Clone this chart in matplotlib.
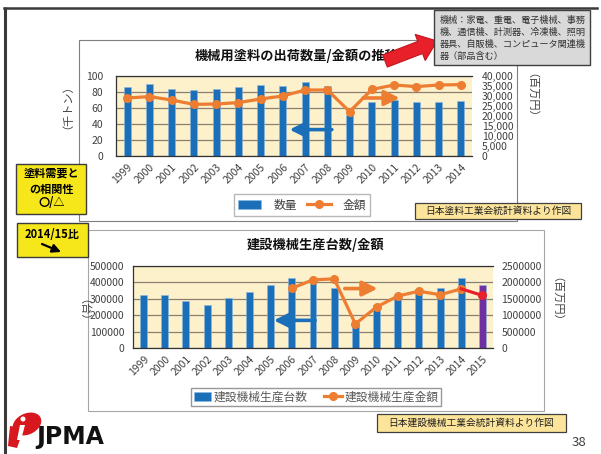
import numpy as np
import matplotlib
matplotlib.use('Agg')
import matplotlib.pyplot as plt
import matplotlib.patches as patches
from matplotlib.ticker import FuncFormatter, MultipleLocator

plt.rcParams['font.family'] = ['Noto Sans CJK JP', 'DejaVu Sans']

# --- data ---
years_top = ['1999', '2000', '2001', '2002', '2003', '2004', '2005', '2006',
             '2007', '2008', '2009', '2010', '2011', '2012', '2013', '2014']
paint_qty = [86, 90, 84, 82.5, 84, 86, 89, 88, 92, 87, 51, 67, 70, 67.5, 68, 69]          # 千トン
paint_amt = [29000, 29700, 28000, 25800, 26000, 26700, 28500, 30000, 33000, 33000,
             22200, 33300, 35500, 34700, 35500, 35700]                                   # 百万円

years_bot = ['1999', '2000', '2001', '2002', '2003', '2004', '2005', '2006', '2007',
             '2008', '2009', '2010', '2011', '2012', '2013', '2014', '2015']
cm_units = [321000, 325000, 285000, 263000, 303000, 339000, 380000, 426000, 414000,
            363000, 145000, 263000, 323000, 360000, 365000, 423000, 380000]             # 台
cm_value = [np.nan, np.nan, np.nan, np.nan, np.nan, np.nan, np.nan, 1816000, 2070000,
            2100000, 732000, 1245000, 1576000, 1727000, 1617000, 1797000, 1596000]      # 百万円

note_lines = ['機械：家電、重電、電子機械、事務',
              '機、通信機、計測器、冷凍機、照明',
              '器具、自販機、コンピュータ関連機',
              '器（部品含む）']

BLUE = '#1b6eb8'
ORANGE = '#ed7d31'
PURPLE = '#7030a0'
RED = '#e8202a'
CREAM = '#fdf1cc'
GRID = '#8a7f6e'

W, H = 601, 454
fig = plt.figure(figsize=(6.01, 4.54), dpi=100)


def px_ax(z):
    a = fig.add_axes([0, 0, 1, 1], zorder=z)
    a.set_xlim(0, W)
    a.set_ylim(H, 0)
    a.axis('off')
    a.patch.set_alpha(0)
    return a


def fr(x0, y0, x1, y1):
    return [x0 / W, 1 - y1 / H, (x1 - x0) / W, (y1 - y0) / H]


bg = px_ax(-1)
# slide border
bg.plot([5, 5], [7, H], color='#3a3a3a', lw=2.2, solid_capstyle='butt')
bg.plot([4, 597], [7.5, 7.5], color='#3a3a3a', lw=1.8)
# chart frames
bg.add_patch(patches.Rectangle((79, 40), 438, 181, fc='white', ec='#7f7f7f', lw=0.8))
bg.add_patch(patches.Rectangle((88, 230), 456, 181, fc='white', ec='#a6a6a6', lw=0.8))
bg.text(195, 56, '機械用塗料の出荷数量/金額の推移', fontsize=9.5, fontweight='bold',
        ha='left', va='center', color='#111')
bg.text(247, 245, '建設機械生産台数/金額', fontsize=9.5, fontweight='bold',
        ha='left', va='center', color='#111')


def style_axes(ax, axr):
    ax.set_facecolor(CREAM)
    ax.set_axisbelow(True)
    ax.yaxis.grid(True, color=GRID, lw=0.9)
    for s in ['top', 'left', 'bottom']:
        ax.spines[s].set_color('#333333')
        ax.spines[s].set_linewidth(0.9)
    ax.spines['right'].set_visible(False)
    for s in axr.spines.values():
        s.set_visible(False)
    ax.tick_params(length=0, labelsize=7.5, colors='#404040')
    axr.tick_params(length=0, labelsize=7.5, colors='#404040')


arrow_kw = dict(arrowstyle='-|>,head_length=0.9,head_width=0.45', lw=2.6,
                shrinkA=0, shrinkB=0, mutation_scale=10)

# --- top chart ---
ax1 = fig.add_axes(fr(116, 76, 472, 156), zorder=1)
ax1r = ax1.twinx()
x1 = np.arange(len(years_top))
bars1 = ax1.bar(x1, paint_qty, width=0.32, color=BLUE, edgecolor='#8ab8e0', lw=0.4)
line1, = ax1r.plot(x1, paint_amt, color=ORANGE, lw=2.3, marker='o', ms=5.5)
ax1.set_xlim(-0.5, len(x1) - 0.5)
ax1.set_ylim(0, 100)
ax1.set_yticks(range(0, 101, 20))
ax1r.set_ylim(0, 40000)
ax1r.yaxis.set_major_locator(MultipleLocator(5000))
ax1r.yaxis.set_major_formatter(FuncFormatter(lambda v, p: f'{int(v):,}'))
ax1.set_xticks(x1, years_top, rotation=45, ha='right', rotation_mode='anchor')
style_axes(ax1, ax1r)
ax1.tick_params(axis='y', pad=9)
ax1r.tick_params(axis='y', pad=7)
ax1.tick_params(axis='x', pad=4)
ax1.set_ylabel('（千トン）', fontsize=8, color='#404040', rotation=90)
ax1.yaxis.set_label_coords(-0.138, 0.68)
ax1r.set_ylabel('（百万円）', fontsize=8, color='#404040', rotation=270, va='center')
ax1r.yaxis.set_label_coords(1.15, 0.69)
ax1r.annotate('', xy=(7.3, 33), xytext=(9.2, 33), xycoords=ax1.transData,
              textcoords=ax1.transData, arrowprops=dict(color=BLUE, **arrow_kw))
ax1r.annotate('', xy=(12.25, 72.5), xytext=(10.6, 72.5), xycoords=ax1.transData,
              textcoords=ax1.transData, arrowprops=dict(color=ORANGE, **arrow_kw))

fig.legend([bars1, line1], ['数量', '金額'], loc='center',
           bbox_to_anchor=(302 / W, 1 - 205 / H), ncol=2, frameon=True,
           fancybox=False, edgecolor='#a6a6a6', fontsize=8.5, labelcolor='#404040',
           handlelength=2.0, handletextpad=1.0, columnspacing=0.9, borderpad=0.35)

# --- bottom chart ---
ax2 = fig.add_axes(fr(133, 265.7, 493, 348), zorder=1)
ax2r = ax2.twinx()
x2 = np.arange(len(years_bot))
bar_cols = [BLUE] * (len(x2) - 1) + [PURPLE]
bars2 = ax2.bar(x2, cm_units, width=0.33, color=bar_cols, edgecolor='#8ab8e0', lw=0.4)
line2, = ax2r.plot(x2[:-1], cm_value[:-1], color=ORANGE, lw=2.3, marker='o', ms=5.5)
ax2r.plot(x2[-2:], cm_value[-2:], color=RED, lw=2.3, zorder=3)
ax2r.plot(x2[-1:], cm_value[-1:], color=RED, marker='o', ms=5.5, lw=0, zorder=4)
ax2.set_xlim(-0.5, len(x2) - 0.5)
ax2.set_ylim(0, 500000)
ax2.set_yticks(range(0, 500001, 100000))
ax2r.set_ylim(0, 2500000)
ax2r.set_yticks(range(0, 2500001, 500000))
ax2.yaxis.set_major_formatter(FuncFormatter(lambda v, p: f'{int(v)}'))
ax2r.yaxis.set_major_formatter(FuncFormatter(lambda v, p: f'{int(v)}'))
ax2.set_xticks(x2, years_bot, rotation=45, ha='right', rotation_mode='anchor')
style_axes(ax2, ax2r)
ax2.tick_params(axis='y', pad=6)
ax2r.tick_params(axis='y', pad=6)
ax2.tick_params(axis='x', pad=4)
ax2.set_ylabel('（台）', fontsize=8, color='#404040', rotation=270, va='center')
ax2.yaxis.set_label_coords(-0.153, 0.39)
ax2r.set_ylabel('（百万円）', fontsize=8, color='#404040', rotation=270, va='center')
ax2r.yaxis.set_label_coords(1.16, 0.53)
ax2r.annotate('', xy=(6.15, 168000), xytext=(8.1, 168000), xycoords=ax2.transData,
              textcoords=ax2.transData, arrowprops=dict(color=BLUE, **arrow_kw))
ax2r.annotate('', xy=(11.05, 361000), xytext=(9.5, 361000), xycoords=ax2.transData,
              textcoords=ax2.transData, arrowprops=dict(color=ORANGE, **arrow_kw))

fig.legend([bars2[0], line2], ['建設機械生産台数', '建設機械生産金額'], loc='center',
           bbox_to_anchor=(316 / W, 1 - 397 / H), ncol=2, frameon=True,
           fancybox=False, edgecolor='#7f7f7f', fontsize=8.5, labelcolor='#595959',
           handlelength=1.5, handletextpad=0.2, columnspacing=1.4, borderpad=0.2)

# --- foreground decorations ---
fg = px_ax(10)
fg.add_patch(patches.Rectangle((16, 164), 70, 50, fc='#f6e71a', ec='#3c3c3c', lw=1))
fg.text(51.5, 173, '塗料需要と', fontsize=8, fontweight='bold', ha='center', va='center')
fg.text(51.5, 189, 'の相関性', fontsize=8, fontweight='bold', ha='center', va='center')
fg.text(51.5, 203, '〇/△', fontsize=8, fontweight='bold', ha='center', va='center')

fg.add_patch(patches.Rectangle((17, 223), 71, 34, fc='#f6e71a', ec='#3c3c3c', lw=1))
fg.text(52, 234, '2014/15比', fontsize=8, fontweight='bold', ha='center', va='center')
fg.annotate('', xy=(61, 252), xytext=(42, 244),
            arrowprops=dict(arrowstyle='-|>,head_length=0.5,head_width=0.25',
                            color='black', lw=1.6, shrinkA=0, shrinkB=0))

fg.add_patch(patches.Rectangle((415, 203), 166, 16, fc='#fde49b', ec='#404040', lw=0.9))
fg.text(498, 211, '日本塗料工業会統計資料より作図', fontsize=7, ha='center', va='center',
        color='#222')
fg.add_patch(patches.Rectangle((377, 414), 189, 18, fc='#fde49b', ec='#404040', lw=0.9))
fg.text(471.5, 423, '日本建設機械工業会統計資料より作図', fontsize=7, ha='center',
        va='center', color='#222')

fg.add_patch(patches.FancyArrow(385, 61, 52, -20, width=13, head_width=28, head_length=18,
                                length_includes_head=True, fc=RED, ec='#c0161e', lw=0.8))
fg.add_patch(patches.Rectangle((434, 10), 156, 55, fc='#d9d9d9', ec='#3f3f3f', lw=1))
for i, ln in enumerate(note_lines):
    fg.text(440, 20.5 + i * 12.1, ln, fontsize=6.6, ha='left', va='center', color='#333')

# logo
fg.add_patch(patches.Ellipse((27, 424), 30, 21, angle=-25, fc='#d7191f'))
fg.add_patch(patches.Polygon([(10, 426), (24, 428), (17, 448), (8, 446)], fc='#d7191f'))
fg.add_patch(patches.Ellipse((23, 419), 5, 5, fc='white'))
fg.add_patch(patches.Polygon([(20, 425), (25, 425), (21, 440), (17, 440)], fc='white'))
fg.text(36, 437, 'JPMA', fontsize=17, fontweight='heavy', family='DejaVu Sans',
        ha='left', va='center', color='#111')
fg.text(579, 442, '38', fontsize=9.5, ha='center', va='center', color='#404040')

fig.savefig('out.png', dpi=100)
